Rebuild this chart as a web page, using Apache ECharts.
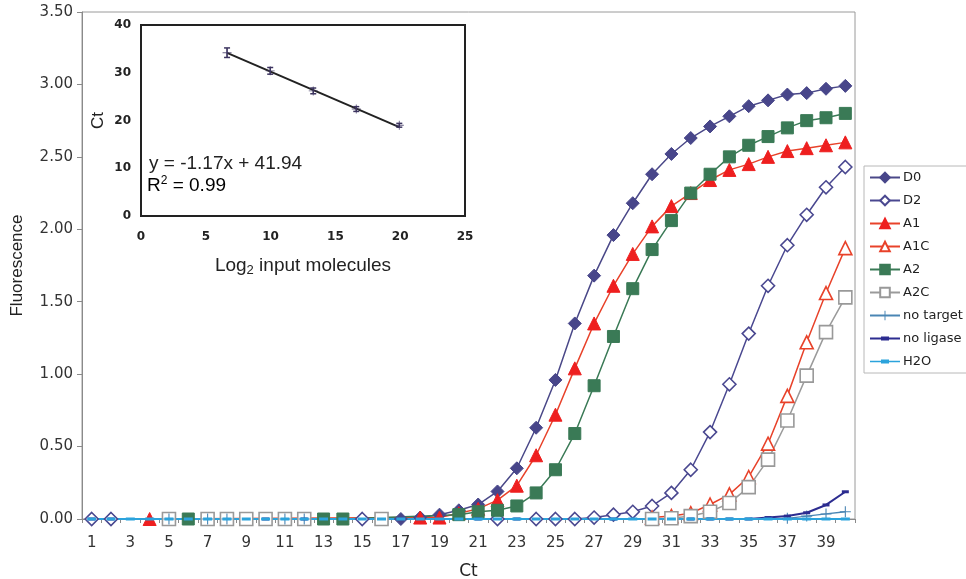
<!DOCTYPE html>
<html>
<head>
<meta charset="utf-8">
<script src="https://cdn.jsdelivr.net/npm/echarts@6/dist/echarts.min.js"></script>
<style>html,body{margin:0;padding:0;background:#fff}#c{width:966px;height:579px}</style>
</head>
<body>
<div id="c"></div>
<script>
// ---------- DATA ----------
var ctCategories = ['1','2','3','4','5','6','7','8','9','10','11','12','13','14','15','16','17','18','19','20',
                    '21','22','23','24','25','26','27','28','29','30','31','32','33','34','35','36','37','38','39','40'];
var n = null;
var D0  = [0,0,n,n,n,n,n,n,n,n,n,n,n,n,n,n,0,0.01,0.03,0.06,0.10,0.19,0.35,0.63,0.96,1.35,1.68,1.96,2.18,2.38,2.52,2.63,2.71,2.78,2.85,2.89,2.93,2.94,2.97,2.99];
var D2  = [0,0,n,n,n,n,n,n,n,n,n,n,n,n,0,n,n,n,n,n,n,0,n,0,0,0,0.01,0.03,0.05,0.09,0.18,0.34,0.60,0.93,1.28,1.61,1.89,2.10,2.29,2.43];
var A1  = [n,n,n,0,n,n,n,n,n,n,n,n,n,n,n,n,n,0.01,0.01,0.04,0.07,0.13,0.23,0.44,0.72,1.04,1.35,1.61,1.83,2.02,2.16,2.25,2.34,2.41,2.45,2.50,2.54,2.56,2.58,2.60];
var A1C = [n,n,n,n,n,n,n,n,n,n,n,n,n,n,n,n,n,n,n,n,n,n,n,n,n,n,n,n,n,0.01,0.02,0.04,0.10,0.17,0.29,0.52,0.85,1.22,1.56,1.87];
var A2  = [n,n,n,n,n,0,n,n,n,n,n,n,0,0,n,n,n,n,n,0.03,0.05,0.06,0.09,0.18,0.34,0.59,0.92,1.26,1.59,1.86,2.06,2.25,2.38,2.50,2.58,2.64,2.70,2.75,2.77,2.80];
var A2C = [n,n,n,n,0,n,0,0,0,0,0,0,n,n,n,0,n,n,n,n,n,n,n,n,n,n,n,n,n,0,0.005,0.02,0.05,0.11,0.22,0.41,0.68,0.99,1.29,1.53];
var noTarget = [n,n,n,n,0,n,0,0,n,n,0,0,n,n,n,n,n,n,n,n,n,n,n,n,n,n,n,n,n,n,n,n,n,n,n,n,0.005,0.02,0.035,0.05];
var noLigase = [0,0,n,n,n,n,n,n,n,0,n,0,n,n,n,n,n,n,n,n,0,n,0,n,n,n,n,0,n,n,n,0,0,0,0,0.01,0.02,0.043,0.097,0.188];
var H2O = [0,0,0,0,0,0,0,0,0,0,0,0,0,0,0,0,0,0,0,0,0,0,0,0,0,0,0,0,0,0,0,0,0,0,0,0,0,0,0,0];

var yTicks = ['0.00','0.50','1.00','1.50','2.00','2.50','3.00','3.50'];

// inset: standard curve
var log2Input = [6.64, 9.97, 13.29, 16.61, 19.93];
var ctMean    = [34.2, 30.4, 26.2, 22.4, 19.0];
var ctErr     = [1.0, 0.7, 0.6, 0.5, 0.4];
var fitSlope = -1.17, fitIntercept = 41.94;
var fitLabel = 'y = -1.17x + 41.94';
var r2Label = '0.99';

// ---------- CHART ----------
var chart = echarts.init(document.getElementById('c'), null, {renderer: 'canvas'});
var F = 'DejaVu Sans';
var plusPath = 'path://M4.5,0h1v4.5h4.5v1h-4.5v4.5h-1v-4.5h-4.5v-1h4.5z';
// legend icons: line + small dash marker (30 x 12 box)
var dashIcon = 'path://M0,0h0.01v0.01h-0.01z M0,5h30v2h-30z M11,4h8v4h-8z M29.99,11.99h0.01v0.01h-0.01z';
var dashIconThin = 'path://M0,0h0.01v0.01h-0.01z M0,5.2h30v1.6h-30z M11,4h8v4h-8z M29.99,11.99h0.01v0.01h-0.01z';

function ser(name, data, opt) {
  return Object.assign({
    name: name, type: 'line', data: data, connectNulls: true,
    xAxisIndex: 0, yAxisIndex: 0, animation: false, showAllSymbol: true
  }, opt);
}

var minX = Math.min.apply(null, log2Input), maxX = Math.max.apply(null, log2Input);
var fitLine = [[minX, fitSlope*minX+fitIntercept],[maxX, fitSlope*maxX+fitIntercept]];

var option = {
  backgroundColor: '#fff',
  animation: false,
  grid: [
    {left: 82, top: 12, width: 773, height: 507, show: true, borderColor: '#9a9a9a', borderWidth: 1, backgroundColor: '#fff',
     outerBoundsMode: 'none', containLabel: false},
    {left: 141, top: 25, width: 324, height: 191, show: true, borderColor: '#222', borderWidth: 2, backgroundColor: '#fff', z: 3,
     outerBoundsMode: 'none', containLabel: false}
  ],
  xAxis: [
    {type: 'category', gridIndex: 0, data: ctCategories, boundaryGap: true,
     name: 'Ct', nameLocation: 'middle', nameGap: 44,
     nameTextStyle: {fontFamily: F, fontSize: 17, color: '#222'},
     axisLine: {lineStyle: {color: '#8a8a8a', width: 1}},
     axisTick: {show: true, length: 4, interval: 0, lineStyle: {color: '#8a8a8a'}},
     axisLabel: {interval: 1, margin: 17, fontFamily: F, fontSize: 15, color: '#333'},
     splitLine: {show: false}},
    {type: 'value', gridIndex: 1, min: 0, max: 25, interval: 5,
     name: '{a|Log}{s|2}{a| input molecules}', nameLocation: 'middle', nameGap: 38,
     nameTextStyle: {rich: {a: {fontFamily: 'Liberation Sans', fontSize: 19, color: '#222'},
                            s: {fontFamily: 'Liberation Sans', fontSize: 13, color: '#222', padding: [10,0,0,0]}}},
     axisLine: {lineStyle: {color: '#222', width: 2}},
     axisTick: {show: false},
     axisLabel: {margin: 15, fontFamily: F, fontWeight: 'bold', fontSize: 12, color: '#222'},
     splitLine: {show: false}, z: 3}
  ],
  yAxis: [
    {type: 'value', gridIndex: 0, min: 0, max: 3.5, interval: 0.5,
     name: 'Fluorescence', nameLocation: 'middle', nameGap: 56,
     nameTextStyle: {fontFamily: 'Liberation Sans', fontSize: 17, color: '#222'},
     axisLine: {show: true, lineStyle: {color: '#8a8a8a', width: 1}},
     axisTick: {show: true, length: 5, lineStyle: {color: '#8a8a8a'}},
     axisLabel: {margin: 9, fontFamily: F, fontSize: 15, color: '#333',
                 formatter: function (v) { return yTicks[Math.round(v / 0.5)]; }},
     splitLine: {show: false}},
    {type: 'value', gridIndex: 1, min: 0, max: 40, interval: 10,
     name: 'Ct', nameLocation: 'middle', nameGap: 34,
     nameTextStyle: {fontFamily: 'Liberation Sans', fontSize: 17, color: '#222'},
     axisLine: {show: true, lineStyle: {color: '#222', width: 2}},
     axisTick: {show: false},
     axisLabel: {margin: 10, fontFamily: F, fontWeight: 'bold', fontSize: 12, color: '#222'},
     splitLine: {show: false}, z: 3}
  ],
  legend: {
    orient: 'vertical', left: 864, top: 166, width: 110,
    padding: [5, 30, 5, 5], itemWidth: 30, itemHeight: 12, itemGap: 10,
    backgroundColor: '#fff', borderColor: '#b8b8b8', borderWidth: 1,
    textStyle: {fontFamily: F, fontSize: 13, color: '#222', padding: [0,0,0,-2]},
    data: ['D0','D2','A1','A1C','A2','A2C','no target',
           {name: 'no ligase', icon: dashIcon},
           {name: 'H2O', icon: dashIconThin}]
  },
  graphic: [
    {type: 'text', left: 149, top: 154, z: 10,
     style: {text: fitLabel, font: '19px "Liberation Sans"', fill: '#222'}},
    {type: 'text', left: 147, top: 175, z: 10,
     style: {text: '{a|R}{s|2}{a| = ' + r2Label + '}',
             rich: {a: {fontFamily: 'Liberation Sans', fontSize: 19, color: '#222'},
                    s: {fontFamily: 'Liberation Sans', fontSize: 12, color: '#222', padding: [0,0,10,0]}}}}
  ],
  series: [
    ser('D0', D0, {symbol: 'diamond', symbolSize: 13, lineStyle: {color: '#4a4888', width: 1.5},
      itemStyle: {color: '#48468a', borderColor: '#48468a', borderWidth: 1}}),
    ser('D2', D2, {symbol: 'diamond', symbolSize: 13, lineStyle: {color: '#4a4890', width: 1.5},
      itemStyle: {color: '#fff', borderColor: '#4a4890', borderWidth: 1.6}}),
    ser('A1', A1, {symbol: 'triangle', symbolSize: 13, lineStyle: {color: '#e8422a', width: 1.5},
      itemStyle: {color: '#ee1f1f', borderColor: '#ee1f1f', borderWidth: 1}}),
    ser('A1C', A1C, {symbol: 'triangle', symbolSize: 13, lineStyle: {color: '#e8422a', width: 1.5},
      itemStyle: {color: '#fff', borderColor: '#e8422a', borderWidth: 1.6}}),
    ser('A2', A2, {symbol: 'rect', symbolSize: 12, lineStyle: {color: '#3a7a56', width: 1.5},
      itemStyle: {color: '#3a7a56', borderColor: '#3a7a56', borderWidth: 1}}),
    ser('A2C', A2C, {symbol: 'rect', symbolSize: 13, lineStyle: {color: '#9a9a9a', width: 1.5},
      itemStyle: {color: '#fff', borderColor: '#999', borderWidth: 1.6}}),
    ser('no target', noTarget, {symbol: plusPath, symbolSize: 11, lineStyle: {color: '#4a86b4', width: 1.3},
      itemStyle: {color: '#4a86b4', borderWidth: 0}}),
    ser('no ligase', noLigase, {symbol: 'rect', symbolSize: [7, 3], lineStyle: {color: '#2c2c90', width: 2},
      itemStyle: {color: '#2c2c90', borderWidth: 0}}),
    ser('H2O', H2O, {symbol: 'rect', symbolSize: [9, 3], lineStyle: {color: '#2ba3dc', width: 2.2},
      itemStyle: {color: '#2ba3dc', borderWidth: 0}}),
    // inset
    {type: 'line', xAxisIndex: 1, yAxisIndex: 1, data: fitLine, symbol: 'none', z: 4,
     lineStyle: {color: '#222', width: 2}, silent: true, legendHoverLink: false},
    {type: 'custom', xAxisIndex: 1, yAxisIndex: 1, z: 5,
     data: log2Input.map(function (x, i) { return [x, ctMean[i] - ctErr[i], ctMean[i] + ctErr[i]]; }),
     renderItem: function (params, api) {
       var lo = api.coord([api.value(0), api.value(1)]);
       var hi = api.coord([api.value(0), api.value(2)]);
       var st = {stroke: '#3d3560', lineWidth: 1.5};
       return {type: 'group', children: [
         {type: 'line', shape: {x1: lo[0], y1: lo[1], x2: hi[0], y2: hi[1]}, style: st},
         {type: 'line', shape: {x1: lo[0]-3, y1: lo[1], x2: lo[0]+3, y2: lo[1]}, style: st},
         {type: 'line', shape: {x1: hi[0]-3, y1: hi[1], x2: hi[0]+3, y2: hi[1]}, style: st}
       ]};
     }},
    {type: 'scatter', xAxisIndex: 1, yAxisIndex: 1, z: 6,
     data: log2Input.map(function (x, i) { return [x, ctMean[i]]; }),
     symbol: plusPath, symbolSize: 9, itemStyle: {color: '#3d3560'}}
  ]
};
chart.setOption(option);
</script>
</body>
</html>
